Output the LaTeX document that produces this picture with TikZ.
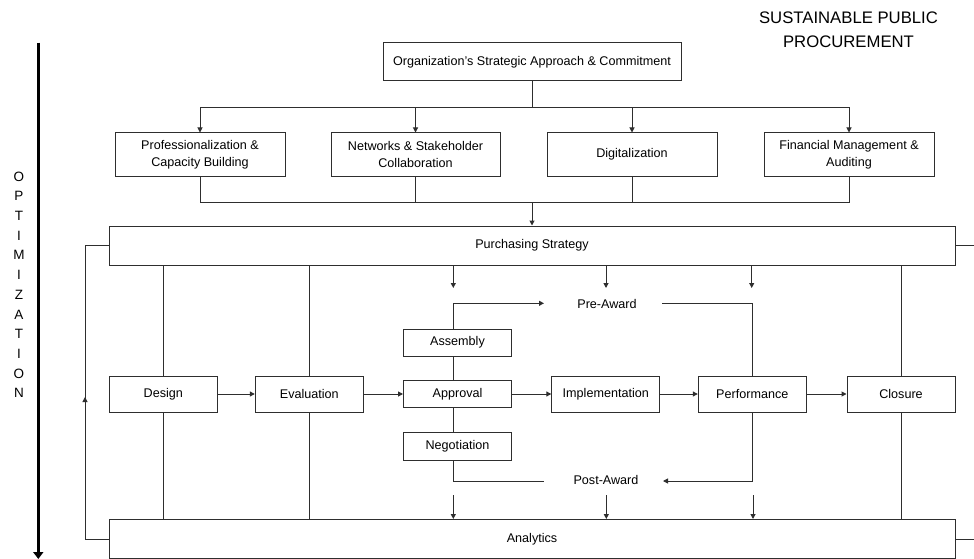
\documentclass[tikz,border=0pt]{standalone}
\usepackage{fontspec}
\setmainfont{Liberation Sans}
\usetikzlibrary{arrows.meta}
\definecolor{ink}{HTML}{2E2E2E}
\begin{document}
\begin{tikzpicture}[x=1pt,y=-1pt,
  box/.style={draw=ink, line width=1pt, inner sep=0pt, align=center, text=black,
              font=\fontsize{12.6}{17.3}\selectfont},
  lbl/.style={inner sep=0pt, text=black, font=\fontsize{12.6}{17.3}\selectfont},
  conn/.style={draw=ink, line width=1pt},
  arr/.style={conn, -{Triangle[length=5pt,width=5pt]}},
  letter/.style={inner sep=0pt, text=black, font=\fontsize{13.5}{16}\selectfont},
]
\useasboundingbox (0,0) rectangle (974,559);
\fill[white] (0,0) rectangle (974,559);

% title
\node[inner sep=0pt, align=center, font=\fontsize{16.7}{24}\selectfont] (title) at (848.5,30) {SUSTAINABLE PUBLIC\\PROCUREMENT};

% optimization axis
\coordinate (axT) at (38.3,42.7);
\coordinate (axB) at (38.3,559);
\draw[line width=2.8pt, black, -{Triangle[length=7pt,width=10pt]}] (axT) -- (axB);
\foreach \ch [count=\i from 0] in {O,P,T,I,M,I,Z,A,T,I,O,N}
  \node[letter] (opt\i) at (19,176.5+19.7*\i) {\ch};

% top
\node[box, minimum width=298pt, minimum height=38pt] (org) at (532,62) {Organization’s Strategic Approach \& Commitment};
\node[box, minimum width=170pt, minimum height=43pt] (prof) at (200,154.5) {Professionalization \&\\Capacity Building};
\node[box, minimum width=169pt, minimum height=43pt] (net) at (415.5,154.5) {Networks \& Stakeholder\\Collaboration};
\node[box, minimum width=170pt, minimum height=43pt] (dig) at (632,154.5) {Digitalization};
\node[box, minimum width=170pt, minimum height=43pt] (fin) at (849,154.5) {Financial Management \&\\Auditing};

\coordinate (splitT) at (532,108);
\draw[conn] (org) -- (splitT);
\draw[arr] (splitT) -| (prof);
\draw[arr] (splitT) -| (net);
\draw[arr] (splitT) -| (dig);
\draw[arr] (splitT) -| (fin);

\coordinate (joinB) at (532,202);
\draw[conn] (prof) |- (joinB);
\draw[conn] (net) |- (joinB);
\draw[conn] (dig) |- (joinB);
\draw[conn] (fin) |- (joinB);

% big bars
\node[box, minimum width=846pt, minimum height=39pt] (purch) at (532,245.5) {Purchasing Strategy};
\node[box, minimum width=846pt, minimum height=39pt] (anal) at (532,539) {Analytics};
\draw[arr] (joinB) -- (purch);

% feedback loop
\coordinate (fbB) at (85,539);
\coordinate (fbM) at (85,397);
\coordinate (fbT) at (85,245.5);
\draw[conn] (anal.west) -- (fbB) -- (fbT) -- (purch.west);
\draw[arr] (fbB) -- (fbM);

% right stubs
\coordinate (rsT) at (974,245.5);
\coordinate (rsB) at (974,539);
\draw[conn] (purch.east) -- (rsT);
\draw[conn] (anal.east) -- (rsB);

% middle row
\node[box, minimum width=108pt, minimum height=36pt] (design) at (163.3,394) {Design};
\node[box, minimum width=108pt, minimum height=36pt] (eval) at (309.3,394) {Evaluation};
\node[box, minimum width=108pt, minimum height=27pt] (appr) at (457.5,394) {Approval};
\node[box, minimum width=108pt, minimum height=27pt] (asm) at (457.5,342.7) {Assembly};
\node[box, minimum width=108pt, minimum height=28pt] (nego) at (457.5,446.3) {Negotiation};
\node[box, minimum width=108pt, minimum height=36pt] (impl) at (605.8,394) {Implementation};
\node[box, minimum width=108pt, minimum height=36pt] (perf) at (752.3,394) {Performance};
\node[box, minimum width=108pt, minimum height=36pt] (clos) at (901,394) {Closure};

\draw[arr] (design) -- (eval);
\draw[arr] (eval) -- (appr);
\draw[arr] (appr) -- (impl);
\draw[arr] (impl) -- (perf);
\draw[arr] (perf) -- (clos);

% verticals from purchasing / to analytics
\draw[conn] (design.north |- purch.south) -- (design.north);
\draw[conn] (design.south) -- (design.south |- anal.north);
\draw[conn] (eval.north |- purch.south) -- (eval.north);
\draw[conn] (eval.south) -- (eval.south |- anal.north);
\draw[conn] (clos.north |- purch.south) -- (clos.north);
\draw[conn] (clos.south) -- (clos.south |- anal.north);

% pre/post award
\node[lbl] (pre) at (607,304) {Pre-Award};
\node[lbl] (post) at (606,480) {Post-Award};

\coordinate (colX) at (453.3,0);
\coordinate (preL) at (544,303.3);
\coordinate (preR) at (662,303.3);
\coordinate (postL) at (544,481);
\coordinate (postR) at (663,481);

\draw[arr] (asm.north -| colX) |- (preL);
\draw[conn] (asm.south -| colX) -- (appr.north -| colX);
\draw[conn] (appr.south -| colX) -- (nego.north -| colX);
\draw[conn] (nego.south -| colX) |- (postL);
\draw[conn] (preR) -| (perf.north);
\draw[arr] (perf.south) |- (postR);

% short arrows below purchasing strategy
\coordinate (t1) at (453.3,288);
\coordinate (t2) at (606,288);
\coordinate (t3) at (751.7,288);
\draw[arr] (t1 |- purch.south) -- (t1);
\draw[arr] (t2 |- purch.south) -- (t2);
\draw[arr] (t3 |- purch.south) -- (t3);

% short arrows above analytics
\coordinate (b1) at (453.3,495);
\coordinate (b2) at (606.3,495);
\coordinate (b3) at (753,495);
\draw[arr] (b1) -- (b1 |- anal.north);
\draw[arr] (b2) -- (b2 |- anal.north);
\draw[arr] (b3) -- (b3 |- anal.north);
\end{tikzpicture}
\end{document}
